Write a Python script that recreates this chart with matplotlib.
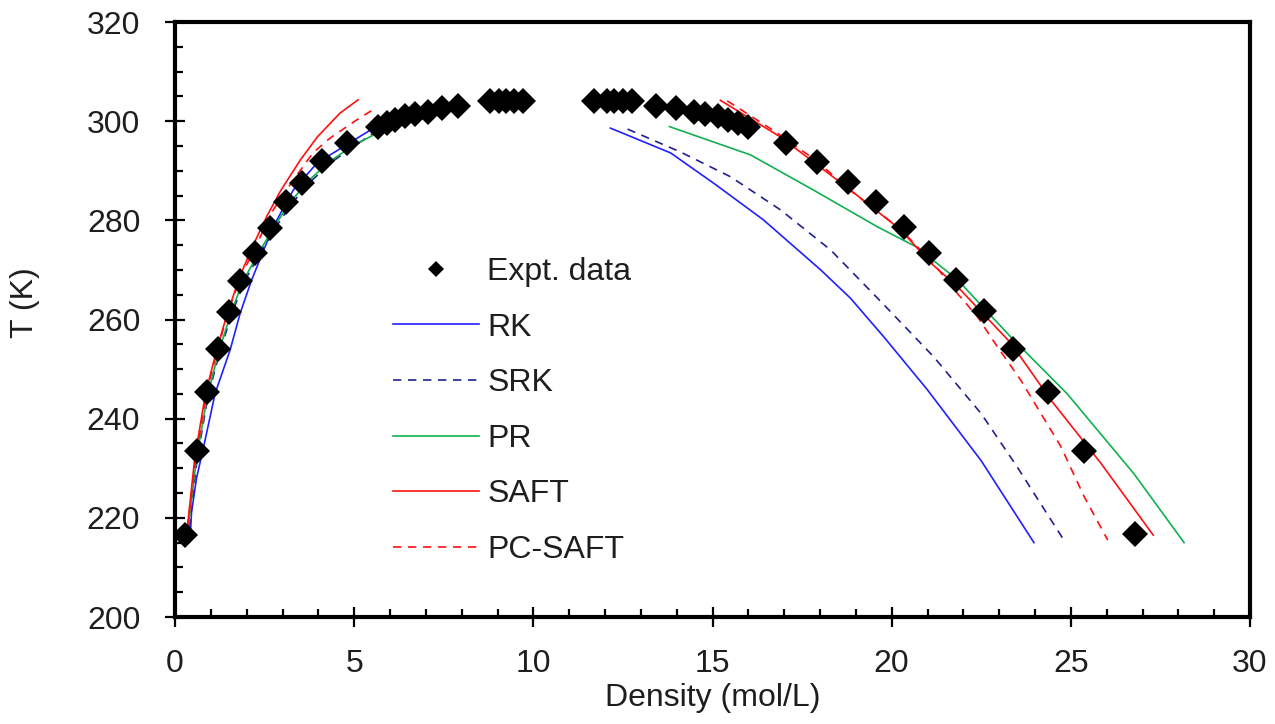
import numpy as np
import matplotlib
matplotlib.use('Agg')
from matplotlib import pyplot as plt
from matplotlib.ticker import MultipleLocator

plt.rcParams['font.family'] = ['Liberation Sans', 'DejaVu Sans']
text_col = '#1e1e1e'

# ---- experimental data (Density mol/L, T K) ----
expt_rho = [0.28, 0.61, 0.89, 1.2, 1.5, 1.82, 2.23, 2.65, 3.1, 3.55, 4.1, 4.8,
            5.67, 5.92, 6.15, 6.42, 6.7, 7.05, 7.45, 7.9,
            8.8, 9.05, 9.25, 9.45, 9.7,
            11.7, 12.05, 12.25, 12.5, 12.75,
            13.41, 13.99, 14.47, 14.8, 15.14, 15.42, 15.7, 15.98,
            17.04, 17.93, 18.77, 19.55, 20.34, 21.03, 21.79, 22.57, 23.38,
            24.36, 25.36, 26.79]
expt_T = [216.6, 233.4, 245.4, 254.0, 261.6, 267.8, 273.4, 278.5, 283.6, 287.6, 292.0, 295.5,
          298.8, 299.6, 300.2, 301.0, 301.5, 301.9, 302.7, 303.1,
          304.0, 304.0, 304.0, 304.0, 304.0,
          304.0, 304.0, 304.0, 304.0, 304.0,
          303.1, 302.7, 301.9, 301.5, 301.0, 300.2, 299.6, 298.8,
          295.6, 291.8, 287.7, 283.7, 278.7, 273.4, 268.0, 261.7, 254.1,
          245.4, 233.5, 216.8]

# ---- model curves: vapour branch and liquid branch ----
rk_vap_rho = [0.42, 0.46, 0.6, 0.79, 1.12, 1.54, 1.82, 2.14, 2.74, 3.3, 3.97, 4.69, 5.45]
rk_vap_T = [215.2, 221, 228, 234, 245.1, 253.9, 261.3, 268, 278.7, 286.1, 291.6, 294.8, 298.2]
rk_liq_rho = [12.15, 13.83, 15.03, 16.42, 18.02, 18.85, 19.78, 21.0, 22.5, 23.97]
rk_liq_T = [298.6, 293.6, 287.5, 280.1, 270.0, 264.3, 256.5, 245.8, 231.5, 215.0]

srk_vap_rho = [0.35, 0.62, 0.92, 1.25, 1.58, 1.92, 2.35, 2.8, 3.27, 3.78, 4.38, 5.05, 5.6]
srk_vap_T = [215, 232, 244.5, 253.5, 261, 267.5, 273, 278.5, 283.5, 287.8, 291.8, 295.2, 297.9]
srk_liq_rho = [12.63, 14.1, 15.5, 16.9, 18.3, 19.78, 21.17, 22.5, 23.5, 24.85]
srk_liq_T = [298.4, 293.8, 288.8, 282.1, 274.0, 263.0, 252.5, 241.0, 230.3, 215.0]

pr_vap_rho = [0.32, 0.6, 0.9, 1.22, 1.55, 1.88, 2.3, 2.75, 3.2, 3.7, 4.3, 5.0, 5.7]
pr_vap_T = [215, 232, 244.5, 253.5, 261, 267.5, 273, 278.5, 283.5, 287.8, 291.8, 295.2, 297.8]
pr_liq_rho = [13.8, 16.06, 17.82, 19.6, 20.7, 21.84, 23.32, 24.9, 26.76, 28.16]
pr_liq_T = [298.9, 293.2, 286.1, 278.7, 274.6, 268.0, 256.5, 245.0, 228.9, 215.0]

saft_vap_rho = [0.3, 0.55, 0.85, 1.15, 1.45, 1.8, 2.15, 2.56, 2.95, 3.5, 3.97, 4.6, 5.11]
saft_vap_T = [215, 232, 245, 253.5, 261, 268.5, 274.5, 280.8, 286, 292.2, 296.8, 301.6, 304.3]
saft_liq_rho = [15.22, 16.9, 18.85, 20.25, 21.09, 21.84, 23.32, 24.44, 25.84, 27.3]
saft_liq_T = [304.2, 296.8, 286.1, 278.1, 271.4, 266.6, 255.3, 243.8, 231.0, 216.5]

pcsaft_vap_rho = [0.3, 0.58, 0.87, 1.18, 1.48, 1.8, 2.2, 2.74, 3.3, 3.85, 4.33, 5.08, 5.5]
pcsaft_vap_T = [215, 232, 245, 253.8, 261.5, 268, 274, 282.1, 288.1, 293.6, 296.6, 300.3, 302.2]
pcsaft_liq_rho = [15.41, 16.81, 17.9, 18.85, 20.25, 21.2, 21.83, 22.39, 22.95, 23.6, 24.16, 24.72, 25.37, 26.03]
pcsaft_liq_T = [304.1, 297.6, 292.0, 286.0, 278.2, 271.0, 265.3, 260.6, 254.5, 247.8, 241.1, 234.4, 224.3, 215.5]

models = [
    ('RK', rk_vap_rho, rk_vap_T, rk_liq_rho, rk_liq_T, '#2020ff', '-'),
    ('SRK', srk_vap_rho, srk_vap_T, srk_liq_rho, srk_liq_T, '#202090', '--'),
    ('PR', pr_vap_rho, pr_vap_T, pr_liq_rho, pr_liq_T, '#10b050', '-'),
    ('SAFT', saft_vap_rho, saft_vap_T, saft_liq_rho, saft_liq_T, '#ff1010', '-'),
    ('PC-SAFT', pcsaft_vap_rho, pcsaft_vap_T, pcsaft_liq_rho, pcsaft_liq_T, '#ff1010', '--'),
]

fig = plt.figure(figsize=(12.75, 7.24), dpi=100)
ax = fig.add_axes([175 / 1275, 1 - 617 / 724, 1075 / 1275, 595 / 724])

ax.plot(expt_rho, expt_T, 'D', color='black', markersize=13, markeredgewidth=0,
        linestyle='none', label='Expt. data', zorder=5)

for name, vr, vt, lr, lt, col, ls in models:
    x = list(vr) + [np.nan] + list(lr)
    y = list(vt) + [np.nan] + list(lt)
    line, = ax.plot(x, y, color=col, linestyle=ls, linewidth=1.2, label=name, zorder=3)
    if ls == '--':
        line.set_dashes((5, 4))

ax.set_xlim(0, 30)
ax.set_ylim(200, 320)
ax.xaxis.set_major_locator(MultipleLocator(5))
ax.xaxis.set_minor_locator(MultipleLocator(1))
ax.yaxis.set_major_locator(MultipleLocator(20))
ax.yaxis.set_minor_locator(MultipleLocator(5))

for sp in ax.spines.values():
    sp.set_linewidth(3)
ax.tick_params(which='major', direction='inout', length=14, width=1.6,
               labelsize=23, labelcolor=text_col)
ax.tick_params(which='minor', direction='in', length=6, width=1.6)
ax.tick_params(axis='x', which='major', pad=16)
ax.tick_params(axis='y', which='major', pad=18)

ax.set_xlabel('Density (mol/L)', fontsize=23, color=text_col)
ax.set_ylabel('T (K)', fontsize=23, color=text_col)
ax.xaxis.set_label_coords(0.5, -0.111)
ax.yaxis.set_label_coords(-0.1256, 0.528)

ax.legend(loc='upper left', bbox_to_anchor=(0.2028, 0.605), frameon=False,
          fontsize=23, handlelength=2.7, handletextpad=0.25, labelspacing=0.8,
          borderpad=0, borderaxespad=0, markerscale=0.6, labelcolor=text_col)

fig.savefig('out.png', dpi=100)
